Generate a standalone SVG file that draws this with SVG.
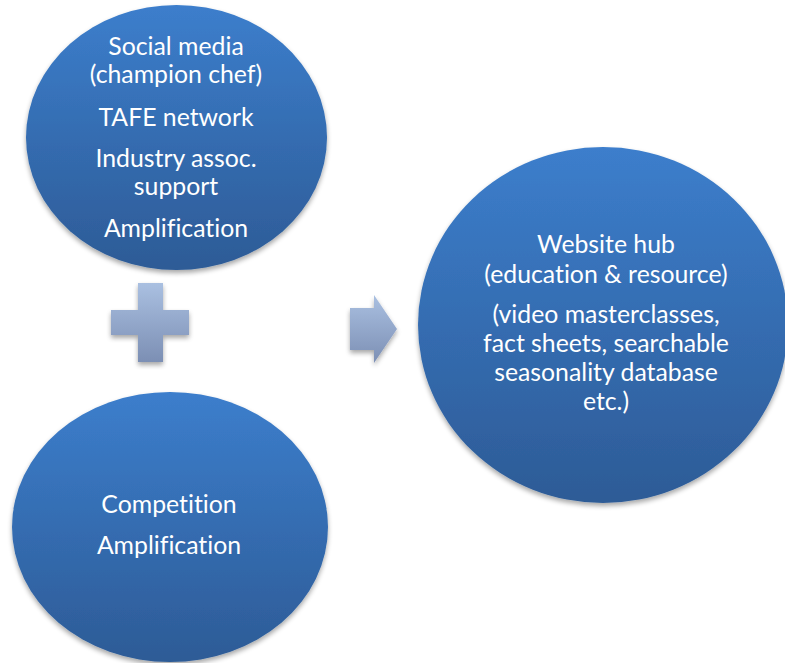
<svg xmlns="http://www.w3.org/2000/svg" width="785" height="663" viewBox="0 0 785 663">
  <defs>
    <linearGradient id="blueFill" x1="0" y1="0" x2="0" y2="1">
      <stop offset="0" stop-color="#3C7ECC"/>
      <stop offset="1" stop-color="#2D5B96"/>
    </linearGradient>
    <linearGradient id="greyFill" x1="0" y1="0" x2="0" y2="1">
      <stop offset="0" stop-color="#AAC0E1"/>
      <stop offset="1" stop-color="#7C8FB4"/>
    </linearGradient>
    <filter id="shadow" x="-10%" y="-10%" width="120%" height="125%">
      <feGaussianBlur in="SourceAlpha" stdDeviation="2.5"/>
      <feOffset dx="0" dy="3" result="blur"/>
      <feComponentTransfer><feFuncA type="linear" slope="0.35"/></feComponentTransfer>
      <feMerge><feMergeNode/><feMergeNode in="SourceGraphic"/></feMerge>
    </filter>
    <style>
      .bubble { fill: url(#blueFill); filter: url(#shadow); }
      .symbol { fill: url(#greyFill); filter: url(#shadow); }
      .label { font-family: Lato, "Open Sans", "DejaVu Sans", sans-serif; font-size: 24.8px; fill: #FFFFFF; text-anchor: middle; font-variant-ligatures: none; }
    </style>
  </defs>

  <g id="channels">
    <ellipse class="bubble" cx="176.5" cy="137.5" rx="150.5" ry="132.5"/>
    <text class="label" x="176" y="55">Social media</text>
    <text class="label" x="176" y="83">(champion chef)</text>
    <text class="label" x="176" y="126">TAFE network</text>
    <text class="label" x="176" y="167">Industry assoc.</text>
    <text class="label" x="176" y="195">support</text>
    <text class="label" x="176" y="237">Amplification</text>
  </g>

  <g id="competition">
    <ellipse class="bubble" cx="170" cy="527" rx="158" ry="135"/>
    <text class="label" x="169" y="513">Competition</text>
    <text class="label" x="169" y="554">Amplification</text>
  </g>

  <g id="website-hub">
    <ellipse class="bubble" cx="603" cy="325" rx="185" ry="178"/>
    <text class="label" x="606" y="253">Website hub</text>
    <text class="label" x="606" y="283">(education &amp; resource)</text>
    <text class="label" x="606" y="323">(video masterclasses,</text>
    <text class="label" x="606" y="352">fact sheets, searchable</text>
    <text class="label" x="606" y="381">seasonality database</text>
    <text class="label" x="606" y="410">etc.)</text>
  </g>

  <g id="connectors">
    <!-- plus sign joining the two channels -->
    <path id="plus" class="symbol" d="M138,283 H163 V310 H189 V335 H163 V362 H138 V335 H111 V310 H138 Z"/>
    <!-- block arrow leading to the hub -->
    <path id="arrow" class="symbol" d="M350,308 H374 V295 L397,329 L374,363 V350 H350 Z"/>
  </g>
</svg>
